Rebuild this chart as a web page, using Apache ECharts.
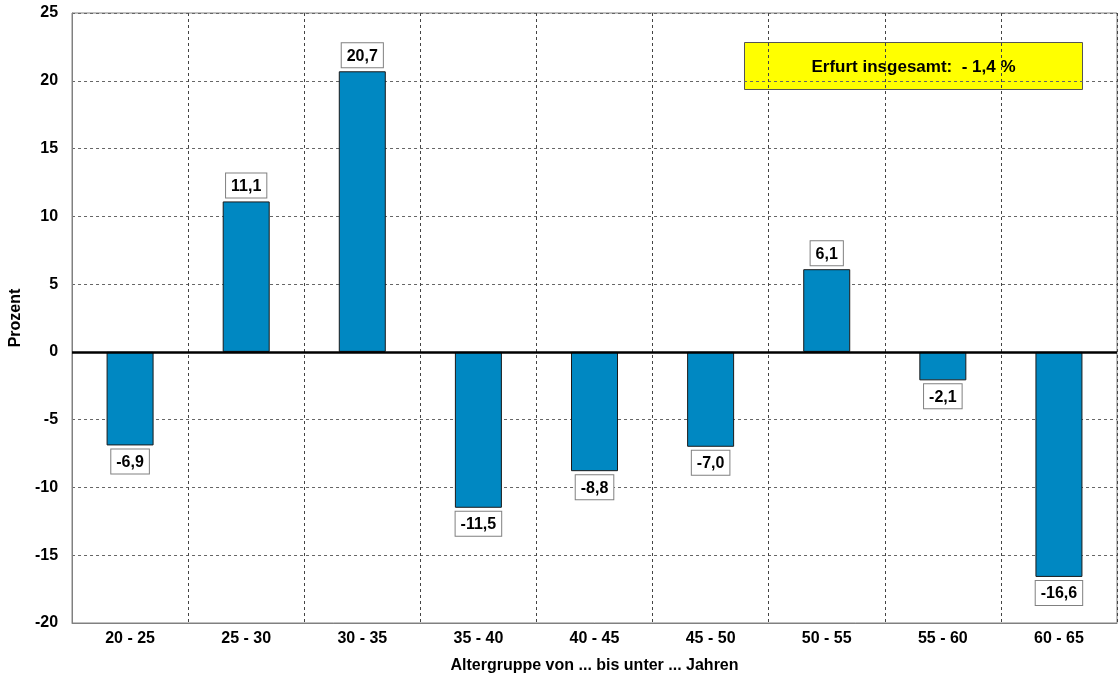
<!DOCTYPE html>
<html><head><meta charset="utf-8">
<script src="https://cdn.jsdelivr.net/npm/echarts@6/dist/echarts.min.js"></script>
<style>html,body{margin:0;padding:0;background:#fff}#c{width:1119px;height:679px}</style>
</head><body><div id="c"></div>
<script>
var categories = ['20 - 25','25 - 30','30 - 35','35 - 40','40 - 45','45 - 50','50 - 55','55 - 60','60 - 65'];
var values = [-6.9, 11.1, 20.7, -11.5, -8.8, -7.0, 6.1, -2.1, -16.6];
var yTicks = {min: -20, max: 25, interval: 5};
var totalLabel = 'Erfurt insgesamt:  - 1,4 %';

var FONT = '"Liberation Sans", Arial, sans-serif';
var chart = echarts.init(document.getElementById('c'));
chart.setOption({
  animation: false,
  grid: {left: 72, right: 2, top: 13, bottom: 51, show: true, borderColor: '#808080', borderWidth: 1},
  xAxis: {
    type: 'category', data: categories,
    name: 'Altergruppe von ... bis unter ... Jahren', nameLocation: 'middle', nameGap: 35,
    nameTextStyle: {fontFamily: FONT, fontWeight: 'bold', fontSize: 16, color: '#000'},
    axisLine: {onZero: false, lineStyle: {color: '#808080'}},
    axisTick: {show: false},
    axisLabel: {fontFamily: FONT, fontWeight: 'bold', fontSize: 16, color: '#000', margin: 8},
    splitLine: {show: true, lineStyle: {color: '#444', type: [3, 3], width: 1}}
  },
  yAxis: {
    type: 'value', min: yTicks.min, max: yTicks.max, interval: yTicks.interval,
    name: 'Prozent', nameLocation: 'middle', nameGap: 45, nameRotate: 90,
    nameTextStyle: {fontFamily: FONT, fontWeight: 'bold', fontSize: 16, color: '#000'},
    axisLine: {show: true, lineStyle: {color: '#808080'}},
    axisTick: {show: false},
    axisLabel: {fontFamily: FONT, fontWeight: 'bold', fontSize: 16, color: '#000', margin: 14},
    splitLine: {show: true, lineStyle: {color: '#666', type: [3, 3], width: 1}}
  },
  series: [{
    type: 'bar', barWidth: 47,
    data: values.map(function (v) {
      return {value: v, label: {position: v >= 0 ? 'top' : 'bottom'}};
    }),
    itemStyle: {color: '#0088C2', borderColor: '#1a1a1a', borderWidth: 1},
    label: {
      show: true, distance: 4,
      formatter: function (p) { return p.value.toFixed(1).replace('.', ','); },
      fontFamily: FONT, fontWeight: 'bold', fontSize: 16, color: '#000',
      backgroundColor: '#fff', borderColor: '#808080', borderWidth: 1, padding: [5, 5, 3, 5]
    },
    markLine: {
      silent: true, symbol: 'none', label: {show: false},
      lineStyle: {color: '#000', width: 2.5, type: 'solid'},
      data: [{yAxis: 0}]
    }
  }],
  graphic: [{
    type: 'group', left: 744, top: 42,
    children: [
      {type: 'rect', shape: {x: 0, y: 0, width: 338, height: 47},
       style: {fill: '#ffff00', stroke: '#555', lineWidth: 1}},
      {type: 'text', x: 169, y: 25,
       style: {text: totalLabel, fontFamily: FONT, fontWeight: 'bold', fontSize: 17, fill: '#000',
               align: 'center', verticalAlign: 'middle'}}
    ]
  }]
});
</script></body></html>
